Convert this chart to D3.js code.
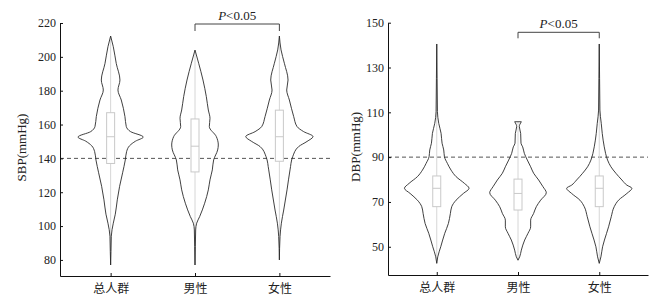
<!DOCTYPE html>
<html>
<head>
<meta charset="utf-8">
<script src="https://cdn.jsdelivr.net/npm/d3@7"></script>
<style>
  body { margin: 0; background: #fff; }
  svg { display: block; }
  .y-axis .tick text { font-family: 'Liberation Serif', 'Times New Roman', serif; font-size: 12px; fill: #222; }
  .x-axis .tick text { font-family: 'Noto Sans CJK SC', sans-serif; font-size: 12px; fill: #222; }
  .axis-label, .sig { font-family: 'Liberation Serif', 'Times New Roman', serif; font-size: 13px; fill: #222; }
</style>
</head>
<body>
<div id="chart"></div>
<script>
// groups + ticks
const groups = ['总人群', '男性', '女性'];
const sbpTicks = [80, 100, 120, 140, 160, 180, 200, 220];
const dbpTicks = [50, 70, 90, 110, 130, 150];

// box plot stats, one per group
const sbpQ1 = [137, 132, 138.3];
const sbpMedian = [152.8, 147.2, 152.8];
const sbpQ3 = [167, 163.3, 168.5];
const sbpMin = [77, 77, 80];
const sbpMax = [212.3, 204, 212.3];

const dbpQ1 = [67.9, 66.4, 67.9];
const dbpMedian = [76.1, 73.8, 76.1];
const dbpQ3 = [81.6, 80.2, 81.6];
const dbpMin = [42.6, 44, 42.6];
const dbpMax = [140.5, 105.8, 140.5];

// violin densities: [value, relative density 0-100]
const sbpDensityTotal = [[212.3, 0], [206, 8], [196, 17], [186.3, 28], [180.4, 22], [174.5, 32], [164.7, 43], [158.8, 47], [155.8, 60], [152.6, 98], [150.2, 75], [147.5, 57], [144, 48], [139, 44], [131.5, 36], [123.5, 27], [115.5, 20], [107, 14], [101.7, 8], [94, 2], [85, 1], [77, 0]];
const sbpDensityMale = [[204, 0], [196.2, 11], [186.3, 24], [176.5, 34], [168.6, 40], [163.7, 45], [158.8, 43], [152.9, 64], [147.9, 70], [145, 68], [139.1, 56], [133.2, 52], [127.3, 45], [121.4, 40], [113.5, 29], [105.6, 14], [101.7, 5], [97.7, 2], [88, 1], [77, 0]];
const sbpDensityFemale = [[212.3, 0], [204.1, 5], [196.2, 15], [186.3, 26], [180.4, 22], [174.5, 30], [164.7, 43], [158.8, 53], [155.8, 73], [152.9, 101], [150, 83], [147, 58], [141, 40], [133.2, 32], [121.4, 23], [109.5, 13], [101.7, 6], [93.8, 2], [80, 0]];

const dbpDensityTotal = [[140.5, 0], [125, 1], [110.3, 2], [105.1, 6], [100.6, 13], [96.2, 16], [93.2, 21], [90.2, 23], [87.2, 32], [84.2, 43], [81.3, 58], [78.3, 83], [76.1, 97], [73.8, 80], [70.8, 58], [67.9, 45], [64.9, 41], [60.4, 35], [56, 24], [50, 12], [45.5, 3], [42.6, 0]];
const dbpDensityMale = [[105.8, 10], [103.6, 4], [100.6, 8], [96.2, 9], [94.6, 14], [91.7, 19], [88.7, 28], [85.7, 38], [82.8, 47], [79.8, 62], [76.8, 75], [74.1, 85], [70.8, 68], [67.9, 55], [64.9, 47], [61.9, 38], [58.9, 38], [56, 30], [53, 20], [48.5, 10], [45.5, 5], [44, 0]];
const dbpDensityFemale = [[140.5, 0], [125, 1], [111, 2], [105.1, 6], [100.6, 9], [94.6, 15], [91.7, 19], [88.7, 25], [85.7, 35], [82.8, 50], [79.8, 68], [77.5, 83], [76.1, 98], [73.8, 83], [70.8, 58], [67.9, 45], [63.4, 36], [58.9, 28], [56, 22], [50, 10], [45.5, 5], [42.6, 0]];

// dimensions
const WIDTH = 664;
const HEIGHT = 298;
const HALF_WIDTH = 33.3;
const BOX_WIDTH = 8;
const VIOLIN_COLOR = '#2a2a2a';
const BOX_COLOR = '#c9c9c9';

const panels = [
  {
    left: 60, right: 330, top: 23, bottom: 276,
    domain: [70.5, 220], ticks: sbpTicks, ref: 140,
    label: 'SBP(mmHg)', labelX: 23,
    q1: sbpQ1, median: sbpMedian, q3: sbpQ3, min: sbpMin, max: sbpMax,
    densities: [sbpDensityTotal, sbpDensityMale, sbpDensityFemale],
    bracketY: 24, bracketDrop: 7, sigY: 20,
  },
  {
    left: 388, right: 648, top: 22.7, bottom: 275,
    domain: [37.4, 150], ticks: dbpTicks, ref: 90,
    label: 'DBP(mmHg)', labelX: 357,
    q1: dbpQ1, median: dbpMedian, q3: dbpQ3, min: dbpMin, max: dbpMax,
    densities: [dbpDensityTotal, dbpDensityMale, dbpDensityFemale],
    bracketY: 32.3, bracketDrop: 6, sigY: 28,
  },
];

const $svg = d3.select('#chart').append('svg')
  .attr('width', WIDTH)
  .attr('height', HEIGHT);

function drawPanel(p) {
  const scaleX = d3.scalePoint().domain(groups).range([p.left, p.right]).padding(0.6);
  const scaleY = d3.scaleLinear().domain(p.domain).range([p.bottom, p.top]);
  const scaleW = d3.scaleLinear().domain([0, 100]).range([0, HALF_WIDTH]);

  const $g = $svg.append('g');

  // reference line
  $g.append('line')
    .attr('x1', p.left).attr('x2', p.right)
    .attr('y1', scaleY(p.ref)).attr('y2', scaleY(p.ref))
    .attr('stroke', '#555')
    .attr('stroke-width', 1)
    .attr('stroke-dasharray', '4,3');

  groups.forEach((name, i) => {
    const cx = scaleX(name);
    const $v = $g.append('g').attr('class', 'g-violin');

    // whisker
    $v.append('line')
      .attr('x1', cx).attr('x2', cx)
      .attr('y1', scaleY(p.max[i])).attr('y2', scaleY(p.min[i]))
      .attr('stroke', '#d6d6d6')
      .attr('stroke-width', 1);

    const area = d3.area()
      .curve(d3.curveMonotoneY)
      .y(d => scaleY(d[0]))
      .x0(d => cx - scaleW(d[1]))
      .x1(d => cx + scaleW(d[1]));

    $v.append('path')
      .datum(p.densities[i])
      .attr('d', area)
      .attr('fill', 'none')
      .attr('stroke', VIOLIN_COLOR)
      .attr('stroke-width', 0.9);

    // box
    $v.append('rect')
      .attr('x', cx - BOX_WIDTH / 2)
      .attr('width', BOX_WIDTH)
      .attr('y', scaleY(p.q3[i]))
      .attr('height', scaleY(p.q1[i]) - scaleY(p.q3[i]))
      .attr('fill', '#fff')
      .attr('stroke', BOX_COLOR)
      .attr('stroke-width', 1);

    $v.append('line')
      .attr('x1', cx - BOX_WIDTH / 2).attr('x2', cx + BOX_WIDTH / 2)
      .attr('y1', scaleY(p.median[i])).attr('y2', scaleY(p.median[i]))
      .attr('stroke', BOX_COLOR)
      .attr('stroke-width', 1);
  });

  // axes
  $g.append('g')
    .attr('class', 'y-axis')
    .attr('transform', `translate(${p.left},0)`)
    .call(d3.axisLeft(scaleY).tickValues(p.ticks).tickSizeInner(-3).tickSizeOuter(0).tickPadding(4));

  $g.append('g')
    .attr('class', 'x-axis')
    .attr('transform', `translate(0,${p.bottom})`)
    .call(d3.axisBottom(scaleX).tickSizeInner(-3).tickSizeOuter(0).tickPadding(8));

  $g.selectAll('.domain, .tick line').attr('stroke', '#111');

  // axis title
  $g.append('text')
    .attr('class', 'axis-label')
    .attr('transform', `translate(${p.labelX},${(p.top + p.bottom) / 2 - 2}) rotate(-90)`)
    .attr('text-anchor', 'middle')
    .attr('dominant-baseline', 'middle')
    .text(p.label);

  // significance bracket
  const xa = scaleX(groups[1]);
  const xb = scaleX(groups[2]);
  $g.append('path')
    .attr('d', `M${xa},${p.bracketY + p.bracketDrop}V${p.bracketY}H${xb}V${p.bracketY + p.bracketDrop}`)
    .attr('fill', 'none')
    .attr('stroke', '#444')
    .attr('stroke-width', 1);

  const $sig = $g.append('text')
    .attr('class', 'sig')
    .attr('x', (xa + xb) / 2)
    .attr('y', p.sigY)
    .attr('text-anchor', 'middle');
  $sig.append('tspan').attr('font-style', 'italic').text('P');
  $sig.append('tspan').text('<0.05');
}

panels.forEach(drawPanel);
</script>
</body>
</html>
